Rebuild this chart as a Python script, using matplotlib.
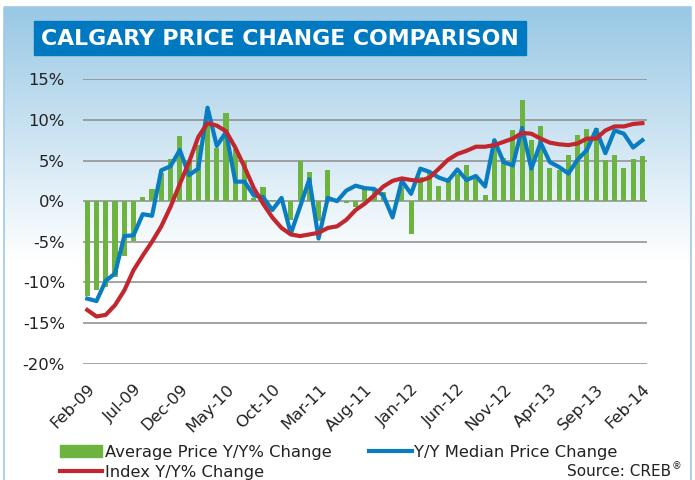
import numpy as np
import matplotlib.pyplot as plt
from matplotlib.patches import Rectangle
from matplotlib.lines import Line2D
from matplotlib.patches import Patch

# meses Feb-09 .. Feb-14
months = ["Feb-09", "Mar-09", "Apr-09", "May-09", "Jun-09", "Jul-09", "Aug-09", "Sep-09", "Oct-09", "Nov-09",
          "Dec-09", "Jan-10", "Feb-10", "Mar-10", "Apr-10", "May-10", "Jun-10", "Jul-10", "Aug-10", "Sep-10",
          "Oct-10", "Nov-10", "Dec-10", "Jan-11", "Feb-11", "Mar-11", "Apr-11", "May-11", "Jun-11", "Jul-11",
          "Aug-11", "Sep-11", "Oct-11", "Nov-11", "Dec-11", "Jan-12", "Feb-12", "Mar-12", "Apr-12", "May-12",
          "Jun-12", "Jul-12", "Aug-12", "Sep-12", "Oct-12", "Nov-12", "Dec-12", "Jan-13", "Feb-13", "Mar-13",
          "Apr-13", "May-13", "Jun-13", "Jul-13", "Aug-13", "Sep-13", "Oct-13", "Nov-13", "Dec-13", "Jan-14",
          "Feb-14"]

avg_change = [-11.7, -10.9, -10.6, -9.3, -6.8, -4.9, 0.5, 1.5, 3.5, 5.2,
              8.0, 5.0, 6.9, 9.8, 6.5, 10.8, 6.4, 5.0, 0.4, 1.8,
              0.2, 0.3, -2.3, 4.9, 3.6, -2.5, 3.8, 0.1, -0.2, -0.7,
              1.5, 1.5, 1.1, 0.2, 1.8, -4.1, 3.0, 3.6, 1.9, 2.8,
              3.4, 4.5, 3.0, 0.7, 7.5, 5.3, 8.7, 12.5, 7.5, 9.2,
              4.1, 3.8, 5.7, 8.1, 8.9, 9.0, 5.1, 5.7, 4.1, 5.2,
              5.6]

median_change = [-12.0, -12.3, -9.8, -8.9, -4.3, -4.2, -1.6, -1.8, 3.8, 4.3,
                 6.3, 3.2, 4.0, 11.5, 6.8, 8.5, 2.4, 2.4, 0.7, 0.5,
                 -1.1, 0.4, -4.0, -0.7, 2.7, -4.6, 0.4, 0.0, 1.3, 1.9,
                 1.6, 1.5, 0.7, -2.0, 2.5, 0.9, 4.0, 3.6, 2.9, 2.5,
                 3.9, 2.6, 3.1, 1.8, 7.5, 4.8, 4.4, 9.0, 4.0, 7.2,
                 4.8, 4.2, 3.4, 5.1, 6.3, 8.8, 5.9, 8.7, 8.3, 6.6,
                 7.5]

index_change = [-13.4, -14.2, -14.0, -12.8, -11.0, -8.5, -6.7, -5.0, -3.1, -0.7,
                2.1, 4.8, 7.9, 9.6, 9.3, 8.6, 6.6, 4.2, 1.6, -0.3,
                -2.0, -3.3, -4.1, -4.3, -4.1, -3.9, -3.3, -3.1, -2.3, -1.1,
                -0.3, 0.7, 1.8, 2.5, 2.8, 2.6, 2.5, 2.9, 4.0, 5.1,
                5.8, 6.2, 6.7, 6.7, 6.9, 7.3, 7.7, 8.4, 8.3, 7.7,
                7.2, 7.0, 6.9, 7.1, 7.7, 7.7, 8.7, 9.2, 9.2, 9.5,
                9.6]

y_ticks = [15, 10, 5, 0, -5, -10, -15, -20]

GREEN = "#6cb33f"
BLUE = "#0a7cc2"
RED = "#c1272d"

fig = plt.figure(figsize=(6.95, 4.8), dpi=100)
W, H = 695, 480

# fondo con degradado azul -> blanco
bg = fig.add_axes([0, 0, 1, 1], zorder=-10)
bg.set_xlim(0, W)
bg.set_ylim(H, 0)
bg.axis("off")
top = np.array([0.61, 0.79, 0.90])
rows = np.linspace(0, H, 480)
t = np.clip((rows - 7) / 250.0, 0, 1)[:, None]
grad = top * (1 - t) + np.ones(3) * t
bg.imshow(grad[:, None, :], extent=(4, 691, H, 7), aspect="auto", zorder=0)
bg.add_patch(Rectangle((4, 7), 687, 480, fill=False, edgecolor="#9fc9e6", lw=1.2, zorder=1))

# caja del titulo
bg.add_patch(Rectangle((34, 21), 492, 34, color="#0079c1", zorder=2))
bg.text(41, 39, "CALGARY PRICE CHANGE COMPARISON", color="white", fontsize=15.8,
        fontweight="bold", va="center", ha="left", zorder=3)

# grafico principal
ax = fig.add_axes([83 / W, 1 - 363.6 / H, 564 / W, (363.6 - 79.3) / H])
ax.set_facecolor("none")
x = np.arange(len(months))
ax.bar(x, avg_change, width=0.55, color=GREEN, zorder=2)
ax.plot(x, median_change, color=BLUE, lw=3, zorder=3)
ax.plot(x, index_change, color=RED, lw=3, zorder=4)

ax.set_xlim(-0.46, 60.5)
ax.set_ylim(-20, 15)
ax.set_yticks(y_ticks)
ax.set_yticklabels([f"{v}%" for v in y_ticks])
ax.set_xticks(x[::5])
ax.set_xticklabels(months[::5], rotation=45, ha="right", va="top", rotation_mode="anchor")
ax.tick_params(axis="both", length=0, labelsize=11.8, colors="#222222")
ax.tick_params(axis="y", pad=13)
ax.tick_params(axis="x", pad=13)
ax.grid(axis="y", color="#8c8c8c", lw=1.1, zorder=0)
ax.set_axisbelow(True)
for s in ax.spines.values():
    s.set_visible(False)

# leyenda
handles = [Patch(color=GREEN), Line2D([], [], color=RED, lw=3), Line2D([], [], color=BLUE, lw=3)]
labels = ["Average Price Y/Y% Change", "Index Y/Y% Change", "Y/Y Median Price Change"]
fig.legend(handles, labels, ncol=2, loc="upper left", bbox_to_anchor=(53 / W, 1 - 438 / H),
           frameon=False, fontsize=11.8, handlelength=2.6, handleheight=0.8, handletextpad=0.15,
           columnspacing=2.3, labelspacing=0.32, borderaxespad=0, labelcolor="#222222")

fig.text(671 / W, 1 - 471 / H, "Source: CREB", ha="right", va="center", fontsize=11, color="#222222")
fig.text(672 / W, 1 - 466 / H, "\u00ae", ha="left", va="center", fontsize=7, color="#222222")

fig.savefig("out.png", dpi=100)
